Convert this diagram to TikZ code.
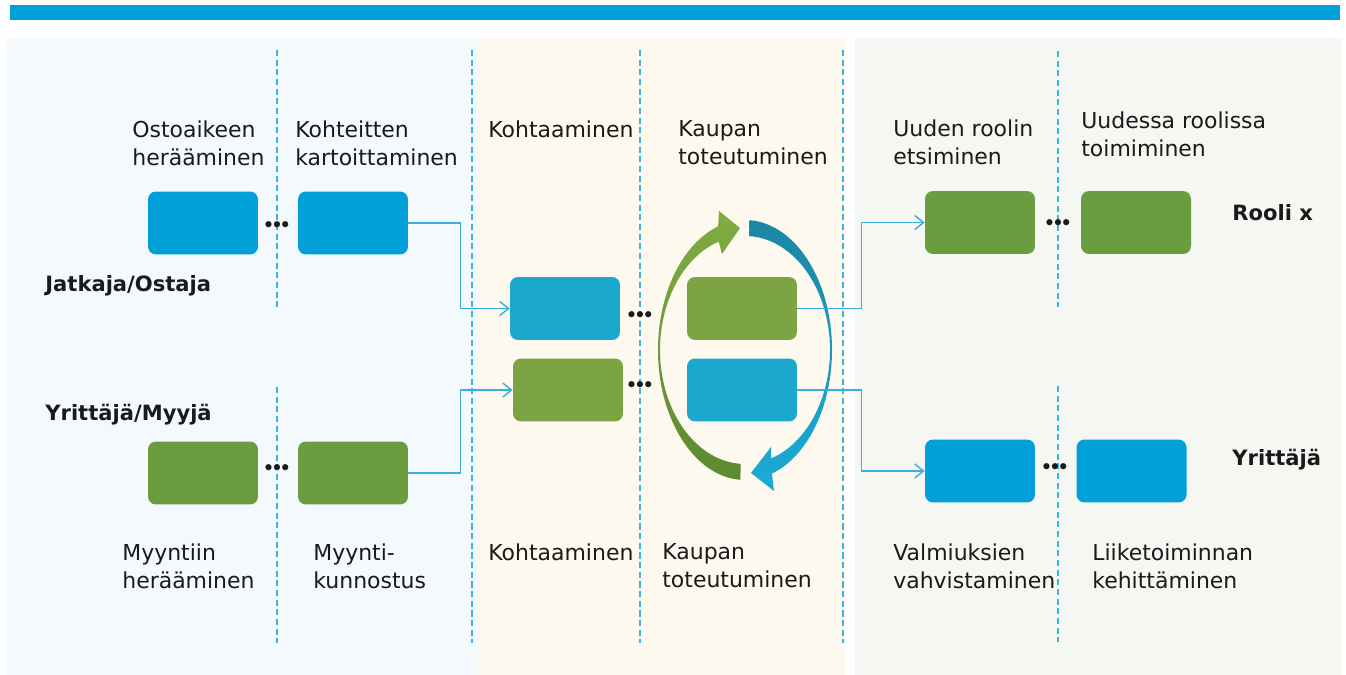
\documentclass[tikz,border=0pt]{standalone}
\usepackage{fontspec}
\setmainfont{DejaVu Sans}
\usetikzlibrary{calc,arrows.meta}

\definecolor{barblue}{HTML}{00A0DA}
\definecolor{leftbg}{HTML}{F3F9FD}
\definecolor{midbg}{HTML}{FDF9EE}
\definecolor{rightbg}{HTML}{F4F7F2}
\definecolor{boxblue}{HTML}{02A0D8}
\definecolor{boxcyan}{HTML}{1BA8CC}
\definecolor{boxgreen}{HTML}{6A9D3F}
\definecolor{boxlime}{HTML}{7CA442}
\definecolor{dashblue}{HTML}{3CB4E0}
\definecolor{linkblue}{HTML}{3AAEE0}
\definecolor{grnlight}{HTML}{80AC42}
\definecolor{grndark}{HTML}{5C8A2E}
\definecolor{cycdark}{HTML}{1B86A4}
\definecolor{cyclight}{HTML}{1AACD6}
\definecolor{txt}{HTML}{1A1A1A}

\newcommand{\stepdots}{•\kern-2.3pt•\kern-2.3pt•}

\begin{document}
\begin{tikzpicture}[x=0.02cm,y=-0.02cm,
    box/.style={minimum width=2.2cm,minimum height=1.26cm,inner sep=0pt,rounded corners=0.16cm},
    lbl/.style={anchor=north west,inner sep=0pt,align=left,text=txt,font=\fontsize{12.5}{16}\selectfont},
    role/.style={anchor=north west,inner sep=0pt,text=txt,font=\fontsize{12}{16}\selectfont\bfseries},
    dotrow/.style={inner sep=0pt,text=txt,font=\fontsize{12}{12}\selectfont},
    divider/.style={draw=dashblue,line width=0.7pt,dash pattern=on 3.5pt off 2pt},
    link/.style={draw=linkblue,line width=0.8pt,-{Straight Barb[length=5pt,width=8pt]}}]
      \useasboundingbox (0,0) rectangle (1346,675);
      % backgrounds
      \fill[white] (0,0) rectangle (1346,675);
      \fill[leftbg] (7,38) rectangle (478,675);
      \fill[midbg] (478,38) rectangle (845,675);
      \fill[rightbg] (855,38) rectangle (1342,675);
      \fill[barblue] (10,5) rectangle (1340,20);
      % phase dividers
      \draw[divider] (277,50) -- (277,308);
      \draw[divider] (277,387) -- (277,643);
      \draw[divider] (472,50) -- (472,643);
      \draw[divider] (640,50) -- (640,643);
      \draw[divider] (843,50) -- (843,643);
      \draw[divider] (1058,51) -- (1058,307);
      \draw[divider] (1058,386) -- (1058,642);
      % cycle arrows
      \coordinate (cyc) at (745,350);
      \shade[top color=grnlight,bottom color=grndark]
        ($(cyc)+(93:87 and 130)$) arc[start angle=93,end angle=252,x radius=87,y radius=130]
        -- (719,211) -- (740,228) -- (722,254)
        -- ($(cyc)+(252:85 and 114)$) arc[start angle=252,end angle=93,x radius=85,y radius=114] -- cycle;
      \shade[top color=cycdark,bottom color=cyclight]
        ($(cyc)+(273:87 and 130)$) arc[start angle=273,end angle=432,x radius=87,y radius=130]
        -- (774,491) -- (751,473) -- (771,447)
        -- ($(cyc)+(432:85 and 114)$) arc[start angle=432,end angle=273,x radius=85,y radius=114] -- cycle;
      % boxes
      \node[box,fill=boxblue] (a1) at (203,223) {};
      \node[box,fill=boxblue] (a2) at (353,223) {};
      \node[box,fill=boxgreen] (b1) at (203,473) {};
      \node[box,fill=boxgreen] (b2) at (353,473) {};
      \node[box,fill=boxcyan] (c1) at (565,308.5) {};
      \node[box,fill=boxlime] (c2) at (568,390) {};
      \node[box,fill=boxlime] (d1) at (742,308.5) {};
      \node[box,fill=boxcyan] (d2) at (742,390) {};
      \node[box,fill=boxgreen] (e1) at (980,222.5) {};
      \node[box,fill=boxgreen] (e2) at (1136,222.5) {};
      \node[box,fill=boxblue] (f1) at (980,471) {};
      \node[box,fill=boxblue] (f2) at (1131.5,471) {};
      % connectors
      \draw[link] (a2.east) -- ++(52,0) |- (c1.west);
      \draw[link] (b2.east) -- ++(52,0) |- (c2.west);
      \draw[link] (d1.east) -- ++(64,0) |- (e1.west);
      \draw[link] (d2.east) -- ++(64,0) |- (f1.west);
      % dots between steps
      \node[dotrow] (dota) at (277,227) {\stepdots};
      \node[dotrow] (dotb) at (277,470) {\stepdots};
      \node[dotrow] (dotc) at (640,317) {\stepdots};
      \node[dotrow] (dotd) at (640,387) {\stepdots};
      \node[dotrow] (dote) at (1058,225) {\stepdots};
      \node[dotrow] (dotf) at (1055,469) {\stepdots};
      % phase labels
      \node[lbl] (ostoaike) at (132,120) {Ostoaikeen\\herääminen};
      \node[lbl] (kartoitus) at (295,120) {Kohteitten\\kartoittaminen};
      \node[lbl] (kohtaus) at (488,120) {Kohtaaminen};
      \node[lbl] (kauppa) at (678,120) {Kaupan\\toteutuminen};
      \node[lbl] (etsinta) at (893,119) {Uuden roolin\\etsiminen};
      \node[lbl] (toiminta) at (1081,111) {Uudessa roolissa\\toimiminen};
      \node[lbl] (myyntiin) at (122,543) {Myyntiin\\herääminen};
      \node[lbl] (kunnostus) at (313,543) {Myynti-\\kunnostus};
      \node[lbl] (kohtausb) at (488,543) {Kohtaaminen};
      \node[lbl] (kauppab) at (662,543) {Kaupan\\toteutuminen};
      \node[lbl] (valmius) at (893,543) {Valmiuksien\\vahvistaminen};
      \node[lbl] (kehitys) at (1092,543) {Liiketoiminnan\\kehittäminen};
      % roles
      \node[role] (ostaja) at (45,275) {Jatkaja/Ostaja};
      \node[role] (myyja) at (45,404) {Yrittäjä/Myyjä};
      \node[role] (rooli) at (1232,204) {Rooli x};
      \node[role] (yrittaja) at (1232,449) {Yrittäjä};
    \end{tikzpicture}
\end{document}
